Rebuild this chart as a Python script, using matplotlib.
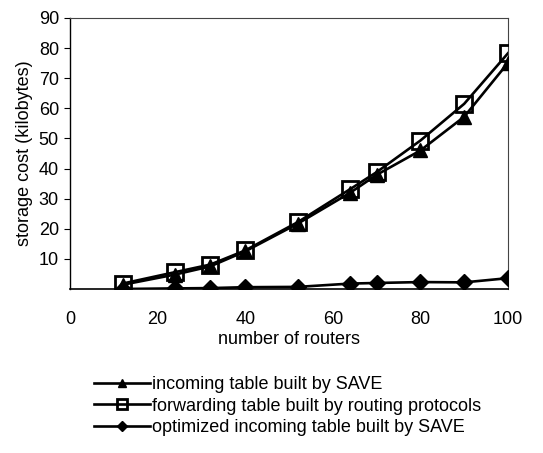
import matplotlib
matplotlib.use("Agg")
import matplotlib.pyplot as plt

plt.rcParams['font.family'] = ['Liberation Sans', 'DejaVu Sans']

routers = [12, 24, 32, 40, 52, 64, 70, 80, 90, 100]
incoming = [1.4, 4.8, 7.5, 12.5, 21.7, 32.0, 37.9, 46.0, 57.2, 75.1]
forwarding = [1.8, 5.6, 8.1, 12.8, 22.2, 33.2, 38.8, 49.3, 61.5, 78.3]
optimized = [0.0, 0.2, 0.3, 0.6, 0.7, 1.8, 2.0, 2.3, 2.2, 3.6]

labels = ["incoming table built by SAVE",
          "forwarding table built by routing protocols",
          "optimized incoming table built by SAVE"]
xticks = [0, 20, 40, 60, 80, 100]
yticks = [10, 20, 30, 40, 50, 60, 70, 80, 90]

W, H = 543, 453
fig = plt.figure(figsize=(W/100, H/100), dpi=100)
ax = fig.add_axes([70/W, 1-289/H, (508-70)/W, (289-18)/H])

ax.plot(routers, incoming, color='black', lw=1.9, marker='^', ms=10, mfc='black', mec='black', label=labels[0], zorder=3)
ax.plot(routers, forwarding, color='black', lw=1.9, marker='s', ms=11.5, mfc='none', mec='black', mew=2.0, label=labels[1], zorder=4)
ax.plot(routers, optimized, color='black', lw=1.9, marker='D', ms=8, mfc='black', mec='black', label=labels[2], zorder=3)

ax.set_xlim(0, 100)
ax.set_ylim(0, 90)
ax.set_xticks(xticks)
ax.set_yticks(yticks)
ax.tick_params(axis='x', length=0, labelsize=13, pad=16)
ax.tick_params(axis='y', length=4, labelsize=13, direction='out', pad=4)
ax.set_xlabel("number of routers", fontsize=13, labelpad=2)
ax.set_ylabel("storage cost (kilobytes)", fontsize=13, labelpad=4)
for s in ['top', 'right']:
    ax.spines[s].set_color('#444444')
    ax.spines[s].set_linewidth(0.8)
ax.spines['left'].set_linewidth(1.0)
ax.spines['bottom'].set_linewidth(1.2)

handles, labs = ax.get_legend_handles_labels()
fig.legend(handles, labs, loc='upper left', bbox_to_anchor=(94/W, 1-376/H),
           frameon=False, fontsize=13, handlelength=3.1, handletextpad=0.1,
           labelspacing=0.25, borderpad=0, borderaxespad=0, markerscale=0.6)

fig.savefig("out.png", dpi=100)
